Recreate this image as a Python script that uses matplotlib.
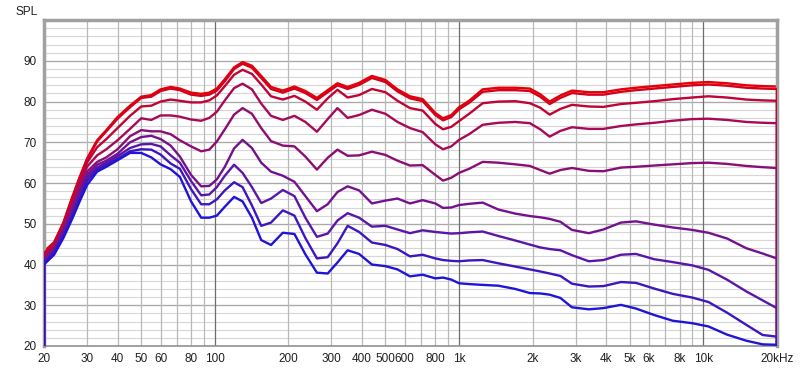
import matplotlib.pyplot as plt

# frequency points (Hz) shared by all nine traces
freq = [20, 22, 24, 26, 28, 30, 33, 36, 40, 45, 50, 55, 60, 66, 72, 80, 88, 95, 102, 110,
        120, 130, 142, 155, 170, 190, 212, 235, 262, 290, 318, 350, 390, 440, 500, 560,
        630, 710, 800, 860, 930, 1000, 1100, 1250, 1450, 1700, 1950, 2150, 2350, 2600,
        2900, 3400, 3900, 4600, 5300, 6300, 7500, 9000, 10500, 12500, 15000, 17500, 20000]

# SPL traces, top (red) to bottom (blue)
spl_1 = [43.2, 45.5, 50.3, 56.3, 61.5, 66.0, 70.5, 73.0, 76.2, 79.0, 81.2, 81.6, 83.0, 83.6, 83.2, 82.2, 81.9, 82.2, 83.2, 85.5,
         88.4, 89.7, 88.8, 86.3, 83.6, 82.7, 83.7, 82.6, 80.9, 82.8, 84.5, 83.6, 84.6, 86.3, 85.3, 83.0,
         81.3, 80.6, 77.2, 75.9, 76.7, 78.6, 80.2, 83.0, 83.4, 83.4, 83.2, 81.8, 80.0, 81.5,
         82.7, 82.3, 82.3, 83.0, 83.4, 83.8, 84.2, 84.6, 84.8, 84.5, 84.0, 83.8, 83.7]
spl_2 = [42.8, 45.2, 50.0, 56.0, 61.2, 65.7, 70.2, 72.7, 75.8, 78.6, 80.9, 81.2, 82.6, 83.2, 82.8, 81.7, 81.4, 81.7, 82.7, 85.0,
         88.0, 89.3, 88.3, 85.8, 83.1, 82.2, 83.2, 82.1, 80.4, 82.3, 84.0, 83.1, 84.1, 85.8, 84.8, 82.5,
         80.8, 80.1, 76.7, 75.4, 76.2, 78.1, 79.7, 82.4, 82.8, 82.8, 82.6, 81.2, 79.4, 80.9,
         82.1, 81.7, 81.7, 82.4, 82.8, 83.2, 83.6, 84.0, 84.2, 83.9, 83.4, 83.2, 83.1]
spl_3 = [42.4, 45.0, 49.8, 55.5, 60.5, 65.0, 68.8, 70.8, 73.5, 76.5, 78.8, 79.0, 80.0, 80.5, 80.2, 79.8, 79.8, 80.3, 81.5, 83.8,
         86.6, 87.8, 86.8, 84.2, 81.3, 80.5, 81.4, 80.0, 78.0, 80.8, 82.9, 81.0, 81.6, 83.1, 82.3, 80.2,
         78.4, 77.8, 74.5, 73.2, 73.8, 75.2, 77.0, 79.6, 80.0, 80.1, 79.6, 78.5, 76.8, 78.2,
         79.2, 78.8, 78.7, 79.4, 79.7, 80.1, 80.6, 81.0, 81.3, 81.0, 80.5, 80.3, 80.2]
spl_4 = [41.8, 44.5, 49.2, 54.5, 59.5, 64.0, 66.8, 68.3, 70.5, 73.3, 75.9, 75.5, 76.6, 76.6, 76.3, 75.6, 75.3, 76.0, 77.5, 80.3,
         83.3, 84.4, 83.0, 79.5, 76.5, 75.5, 76.5, 75.0, 72.6, 75.7, 78.4, 76.0, 76.7, 78.0, 77.0, 75.0,
         73.5, 72.5, 69.5, 68.3, 69.0, 70.6, 72.0, 74.3, 74.8, 75.0, 74.7, 73.2, 71.4, 72.8,
         73.7, 73.3, 73.3, 74.0, 74.4, 74.8, 75.3, 75.7, 75.8, 75.5, 75.0, 74.8, 74.7]
spl_5 = [41.3, 44.0, 48.6, 53.5, 58.5, 62.8, 65.2, 66.3, 68.3, 71.5, 73.0, 72.7, 72.7, 72.0, 70.5, 69.0, 67.8, 68.2, 70.2, 73.2,
         76.8, 78.4, 77.0, 73.5, 70.3, 69.2, 69.0, 66.5, 63.3, 66.2, 68.2, 66.7, 66.8, 67.7, 66.9, 65.5,
         64.3, 64.4, 62.0, 60.6, 61.3, 62.5, 63.5, 65.2, 65.0, 64.6, 64.2, 63.2, 62.3, 63.2,
         63.7, 63.0, 62.9, 63.8, 64.0, 64.3, 64.6, 64.9, 65.0, 64.7, 64.2, 63.9, 63.7]
spl_6 = [41.0, 43.6, 48.0, 53.0, 57.8, 62.0, 64.5, 65.5, 67.2, 70.0, 71.3, 71.6, 70.8, 69.2, 66.5, 62.0, 59.2, 59.3, 60.9, 64.0,
         68.5, 70.6, 68.6, 65.0, 62.8, 61.8, 60.3, 56.8, 53.1, 54.8, 57.8, 59.2, 58.2, 55.0, 55.7, 56.2,
         55.0, 55.8, 55.0, 53.9, 54.0, 54.6, 54.9, 55.2, 53.5, 52.5, 51.9, 51.6, 51.2, 50.5,
         48.5, 47.7, 48.6, 50.3, 50.6, 49.8, 49.1, 48.5, 47.8, 46.4, 44.0, 42.7, 41.5]
spl_7 = [40.6, 43.2, 47.5, 52.3, 57.0, 61.3, 63.8, 65.0, 66.6, 68.6, 69.5, 69.6, 69.0, 66.8, 65.0, 60.5, 57.0, 57.2, 59.0, 61.8,
         64.5, 62.5, 59.0, 55.1, 56.2, 58.3, 56.8, 51.5, 46.8, 47.6, 50.8, 52.6, 51.5, 49.3, 49.5, 48.6,
         47.7, 48.4, 48.0, 47.8, 47.6, 47.7, 47.9, 48.1, 47.0, 45.9, 44.9, 44.2, 43.8, 43.5,
         42.3, 40.8, 41.1, 42.4, 42.6, 41.3, 40.6, 39.8, 38.7, 36.3, 33.4, 31.2, 29.3]
spl_8 = [40.3, 42.8, 47.0, 51.6, 56.2, 60.5, 63.3, 64.5, 66.0, 67.8, 68.3, 68.2, 67.0, 64.8, 63.5, 58.5, 54.8, 54.8, 56.0, 58.2,
         60.2, 59.0, 54.5, 49.5, 50.3, 53.3, 52.0, 46.5, 41.5, 41.8, 45.2, 49.5, 48.0, 45.4, 44.8, 43.8,
         42.0, 42.4, 41.5, 41.1, 40.9, 40.8, 41.0, 41.1, 40.3, 39.5, 38.8, 38.3, 37.8, 37.2,
         35.3, 34.6, 34.7, 35.7, 35.5, 34.1, 32.8, 31.9, 30.8, 28.2, 25.2, 22.7, 22.3]
spl_9 = [40.0, 42.4, 46.5, 51.0, 55.5, 59.5, 62.8, 64.0, 65.6, 67.4, 67.4, 66.3, 64.6, 63.4, 61.5, 55.5, 51.5, 51.5, 52.0, 54.2,
         56.6, 55.5, 51.5, 46.0, 44.8, 47.8, 47.5, 42.5, 38.0, 37.8, 40.5, 43.5, 42.6, 40.0, 39.6, 38.8,
         37.1, 37.5, 36.6, 36.8, 36.3, 35.4, 35.2, 35.0, 34.8, 34.0, 33.0, 32.9, 32.6, 31.8,
         29.5, 29.0, 29.3, 30.1, 29.2, 27.6, 26.2, 25.6, 24.8, 22.8, 21.3, 20.4, 20.3]

traces = [spl_1, spl_2, spl_3, spl_4, spl_5, spl_6, spl_7, spl_8, spl_9]
colors = ["#e60006", "#d4001c", "#bf0436", "#a60a58", "#8c0e74", "#74128e", "#5a16a8",
          "#3e16c0", "#2014d6"]

tick_pos = [20, 30, 40, 50, 60, 80, 100, 200, 300, 400, 500, 600, 800, 1000,
            2000, 3000, 4000, 5000, 6000, 8000, 10000, 20000]
tick_lbl = ["20", "30", "40", "50", "60", "80", "100", "200", "300", "400", "500", "600",
            "800", "1k", "2k", "3k", "4k", "5k", "6k", "8k", "10k", "20kHz"]

plt.rcParams['font.family'] = ['Liberation Sans', 'DejaVu Sans']

fig = plt.figure(figsize=(8, 3.72), dpi=100)
ax = fig.add_axes([0.055, 0.0699, 0.916, 0.876])
ax.set_xscale('log')
ax.set_xlim(20, 20000)
ax.set_ylim(20, 100)

# grid like REW: light lines every 2 dB, darker every 10 dB
for v in range(22, 100, 2):
    ax.axhline(v, color='#d6d6d6', lw=0.8, zorder=0)
for v in range(30, 100, 10):
    ax.axhline(v, color='#a8a8a8', lw=0.9, zorder=0)
for dec in [10, 100, 1000]:
    for m in range(2, 10):
        ax.axvline(m * dec, color='#b8b8b8', lw=0.9, zorder=0)
for v in [100, 1000, 10000]:
    ax.axvline(v, color='#6e6e6e', lw=0.9, zorder=0)

for i, (y, c) in enumerate(zip(traces, colors)):
    ax.plot(freq, y, color=c, lw=1.7, zorder=2 + i, solid_capstyle='round',
            solid_joinstyle='round')
    ax.vlines([freq[0], freq[-1]], 20, [y[0], y[-1]], color=c, lw=1.7, zorder=2 + i)

ax.set_xticks(tick_pos)
ax.set_xticklabels(tick_lbl)
ax.xaxis.set_minor_formatter(plt.NullFormatter())
ax.xaxis.set_minor_locator(plt.NullLocator())
ax.set_yticks(range(20, 100, 10))
ax.tick_params(length=0, labelsize=8.5, colors='#202020', pad=5)

for s in ['left', 'top', 'right']:
    ax.spines[s].set_color('#a0a0a0')
    ax.spines[s].set_linewidth(2.5)
ax.spines['bottom'].set_color('#909090')
ax.spines['bottom'].set_linewidth(1.2)

fig.text(16 / 800, 1 - 12 / 372, "SPL", fontsize=8.5, color='#202020', va='center', ha='left')

fig.savefig("out.png", dpi=100)
